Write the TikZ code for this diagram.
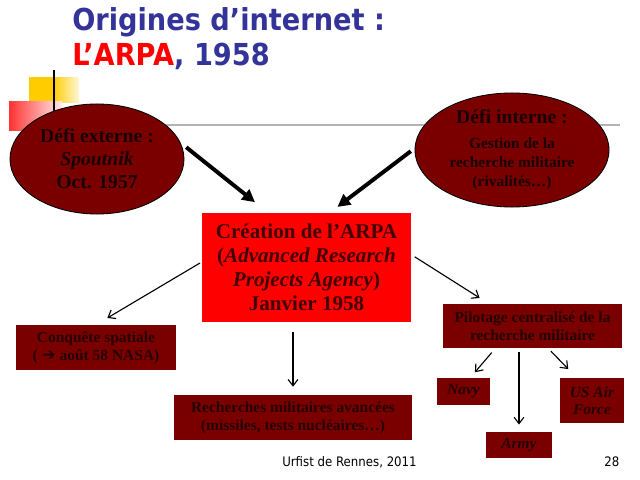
\documentclass[tikz,border=0pt]{standalone}
\usepackage{fontspec}
\setmainfont{Liberation Serif}
\newfontfamily\slidefont[FakeStretch=0.9]{DejaVu Sans}
\newfontfamily\flechefont{DejaVu Sans}
\usepackage{tikz}
\usetikzlibrary{shapes.geometric,arrows.meta}

\definecolor{bordeaux}{HTML}{7A0000}
\definecolor{encre}{HTML}{1A0000}
\definecolor{encrebloc}{HTML}{260000}
\definecolor{encrearpa}{HTML}{400000}
\definecolor{rougevif}{HTML}{FF0000}
\definecolor{bleutitre}{HTML}{333399}
\definecolor{jaune}{HTML}{FFCC00}

\tikzset{
  defi/.style={ellipse, draw=black, line width=0.6pt, fill=bordeaux, text=encre,
    font=\bfseries, align=center, inner sep=0pt},
  bloc/.style={rectangle, fill=bordeaux, text=encrebloc,
    font=\bfseries\fontsize{11}{12.5}\selectfont, align=center, inner sep=0pt},
  grosse/.style={-{Triangle[length=9pt,width=9pt]}, line width=2.8pt},
  fine/.style={-{Straight Barb[length=4.5pt,width=7pt]}, line width=0.8pt}
}

\begin{document}
\begin{tikzpicture}[x=0.025cm, y=-0.025cm]
        \useasboundingbox (0,0) rectangle (640,480);
        % decor du modele
        \fill[jaune] (29,77) rectangle (53,102);
        \shade[left color=jaune, right color=jaune!15] (53,77) rectangle (79,102);
        \shade[left color=rougevif!80, right color=rougevif!8] (9,101) rectangle (62,130);
        \draw[line width=0.8pt] (54,70) -- (54,112);
        \draw[gray!60, line width=1.4pt] (45,125) -- (620,125);
        % titre
        \node[anchor=base west, inner sep=0pt, text=bleutitre,
          font=\slidefont\bfseries\fontsize{21.5}{24}\selectfont] (titre) at (72,31) {Origines d’internet :};
        \node[anchor=base west, inner sep=0pt, text=bleutitre,
          font=\slidefont\bfseries\fontsize{21.5}{24}\selectfont] (soustitre) at (72,65) {\textcolor{rougevif}{L’ARPA}, 1958};
        % les deux defis
        \node[defi, minimum width=4.35cm, minimum height=2.75cm,
          font=\bfseries\fontsize{14}{16.5}\selectfont] (ext) at (97,159)
          {Défi externe :\\\textit{Spoutnik}\\Oct. 1957};
        \node[defi, minimum width=4.85cm, minimum height=2.85cm,
          font=\bfseries\fontsize{11}{13.5}\selectfont] (int) at (512,150)
          {{\fontsize{14}{16}\selectfont Défi interne :}\\[4pt]Gestion de la\\recherche militaire\\(rivalités…)};
        % l'ARPA
        \node[rectangle, fill=rougevif, text=encrearpa, align=center, inner sep=0pt,
          minimum width=5.225cm, minimum height=2.725cm,
          font=\bfseries\fontsize{15}{17}\selectfont] (arpa) at (306.5,267.5)
          {Création de l’ARPA\\(\textit{Advanced Research}\\\textit{Projects Agency})\\Janvier 1958};
        % consequences
        \node[bloc, minimum width=4cm, minimum height=1.125cm] (conq) at (96,347.5)
          {Conquête spatiale\\( {\flechefont\bfseries\fontsize{12}{12}\selectfont ➔} août 58 NASA)};
        \node[bloc, minimum width=5.95cm, minimum height=1.125cm] (rech) at (293,417.5)
          {Recherches militaires avancées\\(missiles, tests nucléaires…)};
        \node[bloc, minimum width=4.475cm, minimum height=1.1cm] (pilot) at (532.5,326)
          {Pilotage centralisé de la\\recherche militaire};
        \node[bloc, minimum width=1.325cm, minimum height=0.675cm] (navy) at (463.5,391.5)
          {\textit{Navy}};
        \node[bloc, minimum width=1.6cm, minimum height=1.125cm] (usaf) at (592,400.5)
          {\textit{US Air}\\\textit{Force}};
        \node[bloc, minimum width=1.625cm, minimum height=0.65cm] (army) at (519,445)
          {\textit{Army}};
        % fleches
        \draw[grosse, shorten <=0.18cm, shorten >=0.42cm] (ext.11) -- (arpa.125);
        \draw[grosse, shorten <=0.12cm, shorten >=0.24cm] (int.179) -- (arpa.67);
        \draw[fine, shorten <=0.05cm, shorten >=0.33cm] (arpa.177) -- (conq.north);
        \draw[fine, shorten <=0.25cm, shorten >=0.2cm] (arpa.south -| rech.north) -- (rech.north);
        \draw[fine, shorten <=0.1cm, shorten >=0.27cm] (arpa.7) -- (pilot.153);
        \draw[fine, shorten <=0.14cm, shorten >=0.18cm] (pilot.211) -- (navy.64);
        \draw[fine, shorten <=0.1cm, shorten >=0.18cm] (pilot.south -| army.north) -- (army.north);
        \draw[fine, shorten <=0.1cm, shorten >=0.3cm] (pilot.-55) -- (usaf.124);
        % pied de page
        \node[anchor=base west, inner sep=0pt, font=\slidefont\fontsize{9.3}{11}\selectfont] (pied) at (282,466)
          {Urfist de Rennes, 2011};
        \node[anchor=base west, inner sep=0pt, font=\slidefont\fontsize{9.3}{11}\selectfont] (page) at (604,466)
          {28};
\end{tikzpicture}
\end{document}
